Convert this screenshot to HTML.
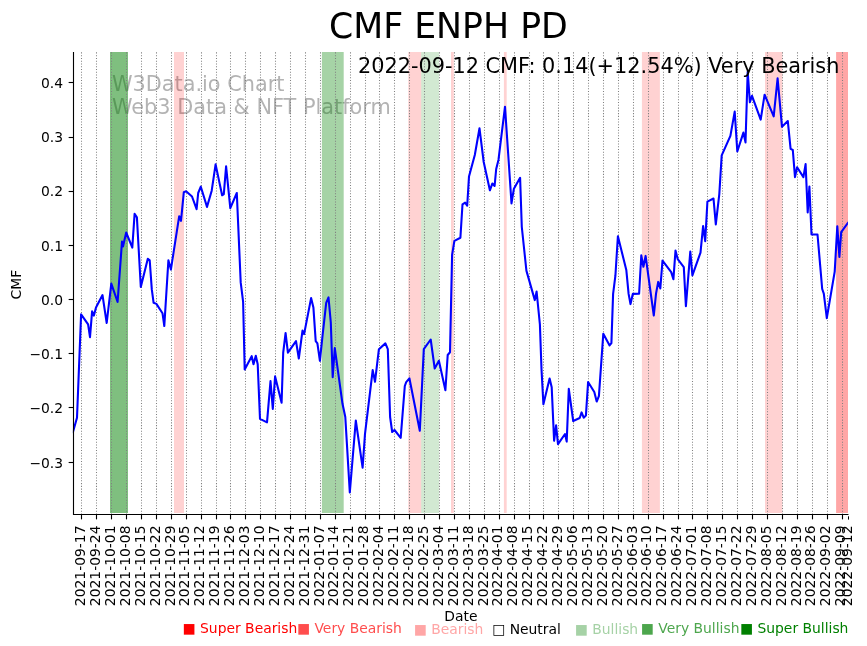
<!DOCTYPE html>
<html><head><meta charset="utf-8"><title>CMF ENPH PD</title>
<style>html,body{margin:0;padding:0;background:#fff;overflow:hidden;}svg{display:block;will-change:transform;}</style></head>
<body>
<svg width="867" height="646" viewBox="0 0 867 646">
<rect x="0" y="0" width="867" height="646" fill="#ffffff"/>
<g font-family="DejaVu Sans, Liberation Sans, sans-serif" font-size="20.833" fill="#808080" fill-opacity="0.6">
<text x="111.9" y="90.6">W3Data.io Chart</text>
<text x="111.9" y="114.0">Web3 Data &amp; NFT Platform</text>
</g>
<rect x="110.00" y="52.0" width="18.00" height="461.00" fill="#008000" fill-opacity="0.5"/>
<rect x="174.00" y="52.0" width="10.00" height="461.00" fill="#ff0000" fill-opacity="0.175"/>
<rect x="321.90" y="52.0" width="21.80" height="461.00" fill="#008000" fill-opacity="0.35"/>
<rect x="408.30" y="52.0" width="12.90" height="461.00" fill="#ff0000" fill-opacity="0.175"/>
<rect x="421.20" y="52.0" width="17.80" height="461.00" fill="#008000" fill-opacity="0.175"/>
<rect x="451.00" y="52.0" width="2.80" height="461.00" fill="#ff0000" fill-opacity="0.175"/>
<rect x="503.90" y="52.0" width="2.80" height="461.00" fill="#ff0000" fill-opacity="0.175"/>
<rect x="641.90" y="52.0" width="18.00" height="461.00" fill="#ff0000" fill-opacity="0.175"/>
<rect x="765.00" y="52.0" width="17.40" height="461.00" fill="#ff0000" fill-opacity="0.175"/>
<rect x="836.10" y="52.0" width="11.90" height="461.00" fill="#ff0000" fill-opacity="0.35"/>
<line x1="81.5" y1="514.5" x2="81.5" y2="52.0" stroke="#808080" stroke-width="1.042" stroke-dasharray="1.042 1.719"/>
<line x1="96.5" y1="514.5" x2="96.5" y2="52.0" stroke="#808080" stroke-width="1.042" stroke-dasharray="1.042 1.719"/>
<line x1="111.5" y1="514.5" x2="111.5" y2="52.0" stroke="#808080" stroke-width="1.042" stroke-dasharray="1.042 1.719"/>
<line x1="126.5" y1="514.5" x2="126.5" y2="52.0" stroke="#808080" stroke-width="1.042" stroke-dasharray="1.042 1.719"/>
<line x1="141.5" y1="514.5" x2="141.5" y2="52.0" stroke="#808080" stroke-width="1.042" stroke-dasharray="1.042 1.719"/>
<line x1="156.5" y1="514.5" x2="156.5" y2="52.0" stroke="#808080" stroke-width="1.042" stroke-dasharray="1.042 1.719"/>
<line x1="171.5" y1="514.5" x2="171.5" y2="52.0" stroke="#808080" stroke-width="1.042" stroke-dasharray="1.042 1.719"/>
<line x1="186.5" y1="514.5" x2="186.5" y2="52.0" stroke="#808080" stroke-width="1.042" stroke-dasharray="1.042 1.719"/>
<line x1="201.5" y1="514.5" x2="201.5" y2="52.0" stroke="#808080" stroke-width="1.042" stroke-dasharray="1.042 1.719"/>
<line x1="216.5" y1="514.5" x2="216.5" y2="52.0" stroke="#808080" stroke-width="1.042" stroke-dasharray="1.042 1.719"/>
<line x1="230.5" y1="514.5" x2="230.5" y2="52.0" stroke="#808080" stroke-width="1.042" stroke-dasharray="1.042 1.719"/>
<line x1="245.5" y1="514.5" x2="245.5" y2="52.0" stroke="#808080" stroke-width="1.042" stroke-dasharray="1.042 1.719"/>
<line x1="260.5" y1="514.5" x2="260.5" y2="52.0" stroke="#808080" stroke-width="1.042" stroke-dasharray="1.042 1.719"/>
<line x1="275.5" y1="514.5" x2="275.5" y2="52.0" stroke="#808080" stroke-width="1.042" stroke-dasharray="1.042 1.719"/>
<line x1="290.5" y1="514.5" x2="290.5" y2="52.0" stroke="#808080" stroke-width="1.042" stroke-dasharray="1.042 1.719"/>
<line x1="305.5" y1="514.5" x2="305.5" y2="52.0" stroke="#808080" stroke-width="1.042" stroke-dasharray="1.042 1.719"/>
<line x1="320.5" y1="514.5" x2="320.5" y2="52.0" stroke="#808080" stroke-width="1.042" stroke-dasharray="1.042 1.719"/>
<line x1="335.5" y1="514.5" x2="335.5" y2="52.0" stroke="#808080" stroke-width="1.042" stroke-dasharray="1.042 1.719"/>
<line x1="350.5" y1="514.5" x2="350.5" y2="52.0" stroke="#808080" stroke-width="1.042" stroke-dasharray="1.042 1.719"/>
<line x1="365.5" y1="514.5" x2="365.5" y2="52.0" stroke="#808080" stroke-width="1.042" stroke-dasharray="1.042 1.719"/>
<line x1="379.5" y1="514.5" x2="379.5" y2="52.0" stroke="#808080" stroke-width="1.042" stroke-dasharray="1.042 1.719"/>
<line x1="394.5" y1="514.5" x2="394.5" y2="52.0" stroke="#808080" stroke-width="1.042" stroke-dasharray="1.042 1.719"/>
<line x1="409.5" y1="514.5" x2="409.5" y2="52.0" stroke="#808080" stroke-width="1.042" stroke-dasharray="1.042 1.719"/>
<line x1="424.5" y1="514.5" x2="424.5" y2="52.0" stroke="#808080" stroke-width="1.042" stroke-dasharray="1.042 1.719"/>
<line x1="439.5" y1="514.5" x2="439.5" y2="52.0" stroke="#808080" stroke-width="1.042" stroke-dasharray="1.042 1.719"/>
<line x1="454.5" y1="514.5" x2="454.5" y2="52.0" stroke="#808080" stroke-width="1.042" stroke-dasharray="1.042 1.719"/>
<line x1="469.5" y1="514.5" x2="469.5" y2="52.0" stroke="#808080" stroke-width="1.042" stroke-dasharray="1.042 1.719"/>
<line x1="484.5" y1="514.5" x2="484.5" y2="52.0" stroke="#808080" stroke-width="1.042" stroke-dasharray="1.042 1.719"/>
<line x1="499.5" y1="514.5" x2="499.5" y2="52.0" stroke="#808080" stroke-width="1.042" stroke-dasharray="1.042 1.719"/>
<line x1="514.5" y1="514.5" x2="514.5" y2="52.0" stroke="#808080" stroke-width="1.042" stroke-dasharray="1.042 1.719"/>
<line x1="529.5" y1="514.5" x2="529.5" y2="52.0" stroke="#808080" stroke-width="1.042" stroke-dasharray="1.042 1.719"/>
<line x1="543.5" y1="514.5" x2="543.5" y2="52.0" stroke="#808080" stroke-width="1.042" stroke-dasharray="1.042 1.719"/>
<line x1="558.5" y1="514.5" x2="558.5" y2="52.0" stroke="#808080" stroke-width="1.042" stroke-dasharray="1.042 1.719"/>
<line x1="573.5" y1="514.5" x2="573.5" y2="52.0" stroke="#808080" stroke-width="1.042" stroke-dasharray="1.042 1.719"/>
<line x1="588.5" y1="514.5" x2="588.5" y2="52.0" stroke="#808080" stroke-width="1.042" stroke-dasharray="1.042 1.719"/>
<line x1="603.5" y1="514.5" x2="603.5" y2="52.0" stroke="#808080" stroke-width="1.042" stroke-dasharray="1.042 1.719"/>
<line x1="618.5" y1="514.5" x2="618.5" y2="52.0" stroke="#808080" stroke-width="1.042" stroke-dasharray="1.042 1.719"/>
<line x1="633.5" y1="514.5" x2="633.5" y2="52.0" stroke="#808080" stroke-width="1.042" stroke-dasharray="1.042 1.719"/>
<line x1="648.5" y1="514.5" x2="648.5" y2="52.0" stroke="#808080" stroke-width="1.042" stroke-dasharray="1.042 1.719"/>
<line x1="663.5" y1="514.5" x2="663.5" y2="52.0" stroke="#808080" stroke-width="1.042" stroke-dasharray="1.042 1.719"/>
<line x1="678.5" y1="514.5" x2="678.5" y2="52.0" stroke="#808080" stroke-width="1.042" stroke-dasharray="1.042 1.719"/>
<line x1="692.5" y1="514.5" x2="692.5" y2="52.0" stroke="#808080" stroke-width="1.042" stroke-dasharray="1.042 1.719"/>
<line x1="707.5" y1="514.5" x2="707.5" y2="52.0" stroke="#808080" stroke-width="1.042" stroke-dasharray="1.042 1.719"/>
<line x1="722.5" y1="514.5" x2="722.5" y2="52.0" stroke="#808080" stroke-width="1.042" stroke-dasharray="1.042 1.719"/>
<line x1="737.5" y1="514.5" x2="737.5" y2="52.0" stroke="#808080" stroke-width="1.042" stroke-dasharray="1.042 1.719"/>
<line x1="752.5" y1="514.5" x2="752.5" y2="52.0" stroke="#808080" stroke-width="1.042" stroke-dasharray="1.042 1.719"/>
<line x1="767.5" y1="514.5" x2="767.5" y2="52.0" stroke="#808080" stroke-width="1.042" stroke-dasharray="1.042 1.719"/>
<line x1="782.5" y1="514.5" x2="782.5" y2="52.0" stroke="#808080" stroke-width="1.042" stroke-dasharray="1.042 1.719"/>
<line x1="797.5" y1="514.5" x2="797.5" y2="52.0" stroke="#808080" stroke-width="1.042" stroke-dasharray="1.042 1.719"/>
<line x1="812.5" y1="514.5" x2="812.5" y2="52.0" stroke="#808080" stroke-width="1.042" stroke-dasharray="1.042 1.719"/>
<line x1="827.5" y1="514.5" x2="827.5" y2="52.0" stroke="#808080" stroke-width="1.042" stroke-dasharray="1.042 1.719"/>
<line x1="842.5" y1="514.5" x2="842.5" y2="52.0" stroke="#808080" stroke-width="1.042" stroke-dasharray="1.042 1.719"/>
<clipPath id="c"><rect x="72.86" y="52.0" width="775.06" height="462.50"/></clipPath>
<path clip-path="url(#c)" d="M72.9 432.2 L77.0 417.8 L81.1 314.4 L88.1 324.4 L90.0 337.2 L92.1 311.4 L93.9 315.6 L96.0 307.4 L102.5 295.1 L106.7 323.0 L111.3 283.6 L117.6 302.0 L122.0 241.6 L123.0 246.4 L126.2 232.5 L132.3 247.6 L134.6 213.9 L136.9 217.4 L140.8 287.0 L147.8 258.7 L149.7 260.3 L151.8 289.4 L153.6 302.8 L156.4 303.9 L162.5 313.2 L164.3 326.0 L168.4 260.3 L170.9 269.6 L179.2 216.2 L181.0 220.8 L183.8 192.3 L186.1 191.3 L192.0 196.5 L196.6 209.2 L198.2 193.0 L200.8 186.7 L207.0 206.9 L211.7 190.7 L215.6 164.4 L222.1 195.3 L223.8 194.1 L226.1 166.3 L230.3 208.1 L236.8 193.0 L240.7 282.4 L243.1 301.6 L244.7 369.4 L251.7 356.2 L253.5 364.3 L255.8 355.7 L257.7 364.3 L260.0 418.9 L267.0 422.4 L270.5 381.1 L272.8 408.9 L275.1 376.4 L281.6 402.7 L283.2 352.7 L285.6 333.0 L287.9 352.7 L296.0 341.1 L298.8 358.5 L302.5 330.6 L304.1 334.1 L311.1 298.1 L313.4 307.4 L315.7 341.1 L317.4 343.4 L319.9 360.8 L322.7 334.1 L326.2 302.8 L328.5 297.4 L330.8 322.5 L332.7 377.1 L334.8 348.1 L342.5 403.8 L345.3 417.0 L349.8 492.4 L355.8 420.5 L362.6 467.7 L365.0 433.9 L372.7 370.1 L375.0 381.8 L378.9 349.2 L385.4 343.4 L387.8 349.2 L390.1 417.0 L392.2 432.0 L394.5 430.0 L400.7 437.8 L404.8 386.0 L406.2 382.2 L409.4 378.3 L419.8 430.8 L423.8 349.2 L430.7 339.5 L434.7 368.5 L438.9 360.8 L445.4 390.3 L447.7 355.0 L450.0 352.3 L452.1 254.8 L454.4 240.9 L460.4 237.8 L462.5 204.3 L465.1 202.7 L467.2 205.7 L469.0 176.4 L474.8 155.0 L479.5 128.3 L483.7 162.0 L489.9 190.3 L492.3 183.6 L494.6 185.9 L496.2 169.0 L498.5 159.7 L505.0 106.7 L511.5 203.4 L513.9 188.7 L520.1 177.8 L521.8 227.0 L526.4 270.6 L534.8 300.1 L536.6 291.5 L539.9 324.5 L541.5 369.3 L543.4 404.2 L549.6 378.5 L551.7 387.2 L554.1 440.8 L556.1 425.4 L558.0 444.1 L565.0 434.0 L566.7 441.6 L568.8 388.8 L573.2 421.0 L579.7 418.0 L581.6 412.4 L583.7 417.7 L585.9 415.6 L588.1 382.0 L594.3 392.0 L596.7 401.5 L598.9 396.1 L603.3 333.8 L609.6 345.4 L611.4 343.1 L613.1 293.9 L615.4 275.7 L617.9 236.3 L626.3 269.9 L628.6 293.9 L630.5 304.1 L632.8 293.9 L639.1 293.8 L641.3 255.4 L643.4 266.7 L645.6 255.9 L653.8 315.5 L656.0 293.8 L658.2 281.9 L660.3 288.4 L662.5 260.6 L671.2 272.1 L673.4 279.3 L675.5 250.5 L677.7 259.1 L683.8 267.1 L685.9 306.2 L690.3 251.5 L692.4 275.4 L700.5 252.6 L703.1 226.0 L705.2 241.1 L707.4 201.7 L713.5 198.5 L715.8 224.4 L719.3 194.1 L721.7 155.4 L730.4 135.9 L734.7 111.6 L737.3 151.5 L743.4 132.6 L745.5 142.4 L747.7 71.9 L749.9 102.3 L752.0 95.8 L760.7 119.6 L764.6 94.7 L773.7 116.4 L777.6 78.4 L782.0 126.8 L787.8 121.1 L790.6 148.9 L792.8 150.0 L795.0 177.1 L797.1 167.3 L803.4 177.1 L805.6 164.1 L807.7 212.5 L809.4 186.5 L811.5 234.5 L817.5 234.5 L822.2 289.0 L823.8 293.7 L826.8 318.1 L834.7 271.6 L837.3 226.4 L839.4 257.0 L841.2 232.2 L847.9 222.9" fill="none" stroke="#0000ff" stroke-width="2.083" stroke-linejoin="round" stroke-linecap="square"/>
<line x1="73.5" y1="52.0" x2="73.5" y2="515.0" stroke="#000" stroke-width="1.111" stroke-linecap="butt"/>
<line x1="73.0" y1="514.5" x2="848.47" y2="514.5" stroke="#000" stroke-width="1.111"/>
<line x1="81.5" y1="514.5" x2="81.5" y2="519.36" stroke="#000" stroke-width="1.111"/>
<line x1="96.5" y1="514.5" x2="96.5" y2="519.36" stroke="#000" stroke-width="1.111"/>
<line x1="111.5" y1="514.5" x2="111.5" y2="519.36" stroke="#000" stroke-width="1.111"/>
<line x1="126.5" y1="514.5" x2="126.5" y2="519.36" stroke="#000" stroke-width="1.111"/>
<line x1="141.5" y1="514.5" x2="141.5" y2="519.36" stroke="#000" stroke-width="1.111"/>
<line x1="156.5" y1="514.5" x2="156.5" y2="519.36" stroke="#000" stroke-width="1.111"/>
<line x1="171.5" y1="514.5" x2="171.5" y2="519.36" stroke="#000" stroke-width="1.111"/>
<line x1="186.5" y1="514.5" x2="186.5" y2="519.36" stroke="#000" stroke-width="1.111"/>
<line x1="201.5" y1="514.5" x2="201.5" y2="519.36" stroke="#000" stroke-width="1.111"/>
<line x1="216.5" y1="514.5" x2="216.5" y2="519.36" stroke="#000" stroke-width="1.111"/>
<line x1="230.5" y1="514.5" x2="230.5" y2="519.36" stroke="#000" stroke-width="1.111"/>
<line x1="245.5" y1="514.5" x2="245.5" y2="519.36" stroke="#000" stroke-width="1.111"/>
<line x1="260.5" y1="514.5" x2="260.5" y2="519.36" stroke="#000" stroke-width="1.111"/>
<line x1="275.5" y1="514.5" x2="275.5" y2="519.36" stroke="#000" stroke-width="1.111"/>
<line x1="290.5" y1="514.5" x2="290.5" y2="519.36" stroke="#000" stroke-width="1.111"/>
<line x1="305.5" y1="514.5" x2="305.5" y2="519.36" stroke="#000" stroke-width="1.111"/>
<line x1="320.5" y1="514.5" x2="320.5" y2="519.36" stroke="#000" stroke-width="1.111"/>
<line x1="335.5" y1="514.5" x2="335.5" y2="519.36" stroke="#000" stroke-width="1.111"/>
<line x1="350.5" y1="514.5" x2="350.5" y2="519.36" stroke="#000" stroke-width="1.111"/>
<line x1="365.5" y1="514.5" x2="365.5" y2="519.36" stroke="#000" stroke-width="1.111"/>
<line x1="379.5" y1="514.5" x2="379.5" y2="519.36" stroke="#000" stroke-width="1.111"/>
<line x1="394.5" y1="514.5" x2="394.5" y2="519.36" stroke="#000" stroke-width="1.111"/>
<line x1="409.5" y1="514.5" x2="409.5" y2="519.36" stroke="#000" stroke-width="1.111"/>
<line x1="424.5" y1="514.5" x2="424.5" y2="519.36" stroke="#000" stroke-width="1.111"/>
<line x1="439.5" y1="514.5" x2="439.5" y2="519.36" stroke="#000" stroke-width="1.111"/>
<line x1="454.5" y1="514.5" x2="454.5" y2="519.36" stroke="#000" stroke-width="1.111"/>
<line x1="469.5" y1="514.5" x2="469.5" y2="519.36" stroke="#000" stroke-width="1.111"/>
<line x1="484.5" y1="514.5" x2="484.5" y2="519.36" stroke="#000" stroke-width="1.111"/>
<line x1="499.5" y1="514.5" x2="499.5" y2="519.36" stroke="#000" stroke-width="1.111"/>
<line x1="514.5" y1="514.5" x2="514.5" y2="519.36" stroke="#000" stroke-width="1.111"/>
<line x1="529.5" y1="514.5" x2="529.5" y2="519.36" stroke="#000" stroke-width="1.111"/>
<line x1="543.5" y1="514.5" x2="543.5" y2="519.36" stroke="#000" stroke-width="1.111"/>
<line x1="558.5" y1="514.5" x2="558.5" y2="519.36" stroke="#000" stroke-width="1.111"/>
<line x1="573.5" y1="514.5" x2="573.5" y2="519.36" stroke="#000" stroke-width="1.111"/>
<line x1="588.5" y1="514.5" x2="588.5" y2="519.36" stroke="#000" stroke-width="1.111"/>
<line x1="603.5" y1="514.5" x2="603.5" y2="519.36" stroke="#000" stroke-width="1.111"/>
<line x1="618.5" y1="514.5" x2="618.5" y2="519.36" stroke="#000" stroke-width="1.111"/>
<line x1="633.5" y1="514.5" x2="633.5" y2="519.36" stroke="#000" stroke-width="1.111"/>
<line x1="648.5" y1="514.5" x2="648.5" y2="519.36" stroke="#000" stroke-width="1.111"/>
<line x1="663.5" y1="514.5" x2="663.5" y2="519.36" stroke="#000" stroke-width="1.111"/>
<line x1="678.5" y1="514.5" x2="678.5" y2="519.36" stroke="#000" stroke-width="1.111"/>
<line x1="692.5" y1="514.5" x2="692.5" y2="519.36" stroke="#000" stroke-width="1.111"/>
<line x1="707.5" y1="514.5" x2="707.5" y2="519.36" stroke="#000" stroke-width="1.111"/>
<line x1="722.5" y1="514.5" x2="722.5" y2="519.36" stroke="#000" stroke-width="1.111"/>
<line x1="737.5" y1="514.5" x2="737.5" y2="519.36" stroke="#000" stroke-width="1.111"/>
<line x1="752.5" y1="514.5" x2="752.5" y2="519.36" stroke="#000" stroke-width="1.111"/>
<line x1="767.5" y1="514.5" x2="767.5" y2="519.36" stroke="#000" stroke-width="1.111"/>
<line x1="782.5" y1="514.5" x2="782.5" y2="519.36" stroke="#000" stroke-width="1.111"/>
<line x1="797.5" y1="514.5" x2="797.5" y2="519.36" stroke="#000" stroke-width="1.111"/>
<line x1="812.5" y1="514.5" x2="812.5" y2="519.36" stroke="#000" stroke-width="1.111"/>
<line x1="827.5" y1="514.5" x2="827.5" y2="519.36" stroke="#000" stroke-width="1.111"/>
<line x1="842.5" y1="514.5" x2="842.5" y2="519.36" stroke="#000" stroke-width="1.111"/>
<line x1="848.5" y1="516.3" x2="848.5" y2="519.6" stroke="#000" stroke-width="1.05"/>
<line x1="73.5" y1="82.5" x2="68.64" y2="82.5" stroke="#000" stroke-width="1.111"/>
<line x1="73.5" y1="137.5" x2="68.64" y2="137.5" stroke="#000" stroke-width="1.111"/>
<line x1="73.5" y1="191.5" x2="68.64" y2="191.5" stroke="#000" stroke-width="1.111"/>
<line x1="73.5" y1="245.5" x2="68.64" y2="245.5" stroke="#000" stroke-width="1.111"/>
<line x1="73.5" y1="299.5" x2="68.64" y2="299.5" stroke="#000" stroke-width="1.111"/>
<line x1="73.5" y1="353.5" x2="68.64" y2="353.5" stroke="#000" stroke-width="1.111"/>
<line x1="73.5" y1="407.5" x2="68.64" y2="407.5" stroke="#000" stroke-width="1.111"/>
<line x1="73.5" y1="462.5" x2="68.64" y2="462.5" stroke="#000" stroke-width="1.111"/>
<g font-family="DejaVu Sans, Liberation Sans, sans-serif">
<text x="63.08" y="87.84" font-size="13.889" text-anchor="end" fill="#000">0.4</text>
<text x="63.08" y="142.08" font-size="13.889" text-anchor="end" fill="#000">0.3</text>
<text x="63.08" y="196.32" font-size="13.889" text-anchor="end" fill="#000">0.2</text>
<text x="63.08" y="250.56" font-size="13.889" text-anchor="end" fill="#000">0.1</text>
<text x="63.08" y="304.80" font-size="13.889" text-anchor="end" fill="#000">0.0</text>
<text x="63.08" y="359.04" font-size="13.889" text-anchor="end" fill="#000">−0.1</text>
<text x="63.08" y="413.28" font-size="13.889" text-anchor="end" fill="#000">−0.2</text>
<text x="63.08" y="467.52" font-size="13.889" text-anchor="end" fill="#000">−0.3</text>
<text transform="translate(85.08,525.52) rotate(-90)" font-size="13.889" text-anchor="end" fill="#000">2021-09-17</text>
<text transform="translate(99.98,525.52) rotate(-90)" font-size="13.889" text-anchor="end" fill="#000">2021-09-24</text>
<text transform="translate(114.89,525.52) rotate(-90)" font-size="13.889" text-anchor="end" fill="#000">2021-10-01</text>
<text transform="translate(129.79,525.52) rotate(-90)" font-size="13.889" text-anchor="end" fill="#000">2021-10-08</text>
<text transform="translate(144.70,525.52) rotate(-90)" font-size="13.889" text-anchor="end" fill="#000">2021-10-15</text>
<text transform="translate(159.60,525.52) rotate(-90)" font-size="13.889" text-anchor="end" fill="#000">2021-10-22</text>
<text transform="translate(174.51,525.52) rotate(-90)" font-size="13.889" text-anchor="end" fill="#000">2021-10-29</text>
<text transform="translate(189.41,525.52) rotate(-90)" font-size="13.889" text-anchor="end" fill="#000">2021-11-05</text>
<text transform="translate(204.32,525.52) rotate(-90)" font-size="13.889" text-anchor="end" fill="#000">2021-11-12</text>
<text transform="translate(219.22,525.52) rotate(-90)" font-size="13.889" text-anchor="end" fill="#000">2021-11-19</text>
<text transform="translate(234.13,525.52) rotate(-90)" font-size="13.889" text-anchor="end" fill="#000">2021-11-26</text>
<text transform="translate(249.03,525.52) rotate(-90)" font-size="13.889" text-anchor="end" fill="#000">2021-12-03</text>
<text transform="translate(263.94,525.52) rotate(-90)" font-size="13.889" text-anchor="end" fill="#000">2021-12-10</text>
<text transform="translate(278.84,525.52) rotate(-90)" font-size="13.889" text-anchor="end" fill="#000">2021-12-17</text>
<text transform="translate(293.75,525.52) rotate(-90)" font-size="13.889" text-anchor="end" fill="#000">2021-12-24</text>
<text transform="translate(308.65,525.52) rotate(-90)" font-size="13.889" text-anchor="end" fill="#000">2021-12-31</text>
<text transform="translate(323.56,525.52) rotate(-90)" font-size="13.889" text-anchor="end" fill="#000">2022-01-07</text>
<text transform="translate(338.46,525.52) rotate(-90)" font-size="13.889" text-anchor="end" fill="#000">2022-01-14</text>
<text transform="translate(353.37,525.52) rotate(-90)" font-size="13.889" text-anchor="end" fill="#000">2022-01-21</text>
<text transform="translate(368.27,525.52) rotate(-90)" font-size="13.889" text-anchor="end" fill="#000">2022-01-28</text>
<text transform="translate(383.18,525.52) rotate(-90)" font-size="13.889" text-anchor="end" fill="#000">2022-02-04</text>
<text transform="translate(398.08,525.52) rotate(-90)" font-size="13.889" text-anchor="end" fill="#000">2022-02-11</text>
<text transform="translate(412.99,525.52) rotate(-90)" font-size="13.889" text-anchor="end" fill="#000">2022-02-18</text>
<text transform="translate(427.89,525.52) rotate(-90)" font-size="13.889" text-anchor="end" fill="#000">2022-02-25</text>
<text transform="translate(442.80,525.52) rotate(-90)" font-size="13.889" text-anchor="end" fill="#000">2022-03-04</text>
<text transform="translate(457.70,525.52) rotate(-90)" font-size="13.889" text-anchor="end" fill="#000">2022-03-11</text>
<text transform="translate(472.61,525.52) rotate(-90)" font-size="13.889" text-anchor="end" fill="#000">2022-03-18</text>
<text transform="translate(487.51,525.52) rotate(-90)" font-size="13.889" text-anchor="end" fill="#000">2022-03-25</text>
<text transform="translate(502.42,525.52) rotate(-90)" font-size="13.889" text-anchor="end" fill="#000">2022-04-01</text>
<text transform="translate(517.33,525.52) rotate(-90)" font-size="13.889" text-anchor="end" fill="#000">2022-04-08</text>
<text transform="translate(532.23,525.52) rotate(-90)" font-size="13.889" text-anchor="end" fill="#000">2022-04-15</text>
<text transform="translate(547.13,525.52) rotate(-90)" font-size="13.889" text-anchor="end" fill="#000">2022-04-22</text>
<text transform="translate(562.04,525.52) rotate(-90)" font-size="13.889" text-anchor="end" fill="#000">2022-04-29</text>
<text transform="translate(576.94,525.52) rotate(-90)" font-size="13.889" text-anchor="end" fill="#000">2022-05-06</text>
<text transform="translate(591.85,525.52) rotate(-90)" font-size="13.889" text-anchor="end" fill="#000">2022-05-13</text>
<text transform="translate(606.75,525.52) rotate(-90)" font-size="13.889" text-anchor="end" fill="#000">2022-05-20</text>
<text transform="translate(621.66,525.52) rotate(-90)" font-size="13.889" text-anchor="end" fill="#000">2022-05-27</text>
<text transform="translate(636.57,525.52) rotate(-90)" font-size="13.889" text-anchor="end" fill="#000">2022-06-03</text>
<text transform="translate(651.47,525.52) rotate(-90)" font-size="13.889" text-anchor="end" fill="#000">2022-06-10</text>
<text transform="translate(666.38,525.52) rotate(-90)" font-size="13.889" text-anchor="end" fill="#000">2022-06-17</text>
<text transform="translate(681.28,525.52) rotate(-90)" font-size="13.889" text-anchor="end" fill="#000">2022-06-24</text>
<text transform="translate(696.19,525.52) rotate(-90)" font-size="13.889" text-anchor="end" fill="#000">2022-07-01</text>
<text transform="translate(711.09,525.52) rotate(-90)" font-size="13.889" text-anchor="end" fill="#000">2022-07-08</text>
<text transform="translate(726.00,525.52) rotate(-90)" font-size="13.889" text-anchor="end" fill="#000">2022-07-15</text>
<text transform="translate(740.90,525.52) rotate(-90)" font-size="13.889" text-anchor="end" fill="#000">2022-07-22</text>
<text transform="translate(755.81,525.52) rotate(-90)" font-size="13.889" text-anchor="end" fill="#000">2022-07-29</text>
<text transform="translate(770.71,525.52) rotate(-90)" font-size="13.889" text-anchor="end" fill="#000">2022-08-05</text>
<text transform="translate(785.62,525.52) rotate(-90)" font-size="13.889" text-anchor="end" fill="#000">2022-08-12</text>
<text transform="translate(800.52,525.52) rotate(-90)" font-size="13.889" text-anchor="end" fill="#000">2022-08-19</text>
<text transform="translate(815.42,525.52) rotate(-90)" font-size="13.889" text-anchor="end" fill="#000">2022-08-26</text>
<text transform="translate(830.33,525.52) rotate(-90)" font-size="13.889" text-anchor="end" fill="#000">2022-09-02</text>
<text transform="translate(845.24,525.52) rotate(-90)" font-size="13.889" text-anchor="end" fill="#000">2022-09-09</text>
<text transform="translate(851.62,525.52) rotate(-90)" font-size="13.889" text-anchor="end" fill="#000">2022-09-12</text>
<text transform="translate(21.00,284.65) rotate(-90)" font-size="13.889" text-anchor="middle" fill="#000">CMF</text>
<text x="460.85" y="621.20" font-size="13.889" text-anchor="middle" fill="#000">Date</text>
<text x="448.40" y="38.00" font-size="34.722" text-anchor="middle" fill="#000">CMF ENPH PD</text>
<text x="357.90" y="73.10" font-size="20.833" text-anchor="start" fill="#000">2022-09-12 CMF: 0.14(+12.54%) Very Bearish</text>
<text x="182.54" y="632.90" font-size="13.889" text-anchor="start" fill="#ff0000">■ Super Bearish</text>
<text x="296.94" y="632.90" font-size="13.889" text-anchor="start" fill="#ff4d4d">■ Very Bearish</text>
<text x="413.74" y="634.00" font-size="13.889" text-anchor="start" fill="#ffa6a6">■ Bearish</text>
<text x="492.14" y="634.00" font-size="13.889" text-anchor="start" fill="#000000">□ Neutral</text>
<text x="574.74" y="633.90" font-size="13.889" text-anchor="start" fill="#a6d2a6">■ Bullish</text>
<text x="640.74" y="632.90" font-size="13.889" text-anchor="start" fill="#4da64d">■ Very Bullish</text>
<text x="739.94" y="632.90" font-size="13.889" text-anchor="start" fill="#008000">■ Super Bullish</text>
</g>
</svg>
</body></html>
